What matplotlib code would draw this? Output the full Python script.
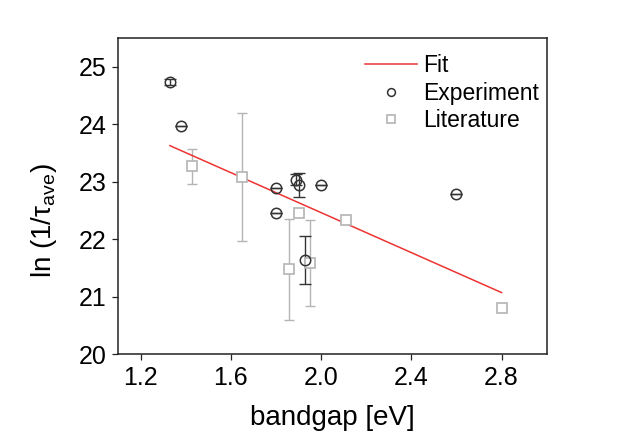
import matplotlib
matplotlib.use("Agg")
import matplotlib.pyplot as plt
import numpy as np

plt.rcParams['font.family'] = ['Liberation Sans', 'DejaVu Sans']
plt.rcParams['mathtext.fontset'] = 'custom'
plt.rcParams['mathtext.rm'] = 'Liberation Sans'

# Experiment data
exp_x = [1.33, 1.38, 1.80, 1.80, 1.89, 1.90, 1.93, 2.00, 2.60]
exp_y = [24.74, 23.98, 22.90, 22.46, 23.04, 22.95, 21.64, 22.95, 22.78]
exp_err = [0.05, 0.0, 0.0, 0.0, 0.10, 0.21, 0.42, 0.0, 0.0]

# Literature data
lit_x = [1.43, 1.65, 1.86, 1.90, 1.95, 2.11, 2.80]
lit_y = [23.27, 23.08, 21.48, 22.46, 21.58, 22.33, 20.80]
lit_err = [0.31, 1.12, 0.88, 0.0, 0.75, 0.0, 0.0]

# Fit line endpoints
fit_x = [1.33, 2.80]
fit_y = [23.63, 21.07]

x_ticks = [1.2, 1.6, 2.0, 2.4, 2.8]
y_ticks = [20, 21, 22, 23, 24, 25]

W, H = 619, 437
fig = plt.figure(figsize=(W/100, H/100), dpi=100)
ax = fig.add_axes([118/W, 1-354/H, (546.7-118)/W, (354-38.3)/H])

lit_col = '#b4b4b4'
exp_col = '#333333'

ax.plot(fit_x, fit_y, color='#ee3333', lw=1.1, label='Fit', zorder=2)

ax.errorbar(lit_x, lit_y, yerr=lit_err, fmt='none', ecolor=lit_col, elinewidth=1.0,
            capsize=3.5, capthick=1.0, zorder=1)
ax.plot(lit_x, lit_y, ls='none', marker='s', ms=6.8, mfc='white', mec=lit_col, mew=1.2,
        label='Literature', zorder=3)

ax.errorbar(exp_x, exp_y, yerr=exp_err, fmt='none', ecolor=exp_col, elinewidth=1.0,
            capsize=4, capthick=1.0, zorder=1)
ax.plot(exp_x, exp_y, ls='none', marker='o', ms=7.5, mfc='none', mec=exp_col, mew=1.1,
        label='Experiment', zorder=4)

ax.set_xlim(1.1, 3.0)
ax.set_ylim(20, 25.5)
ax.set_xticks(x_ticks)
ax.set_xticklabels([f'{v:.1f}' for v in x_ticks])
ax.set_yticks(y_ticks)

for s in ax.spines.values():
    s.set_linewidth(1.1)
    s.set_color('#222222')
ax.tick_params(axis='both', direction='out', length=4.5, width=0.9, labelsize=18,
               colors='#222222', labelcolor='black', pad=4)
ax.tick_params(top=False, right=False)

fig.text(332/W, 1-418/H, 'bandgap [eV]', fontsize=20, ha='center', va='center')
fig.text(44/W, 1-221/H, r'ln (1/τ$_\mathregular{ave}$)', fontsize=20, ha='center',
         va='center', rotation=90)

handles, labels = ax.get_legend_handles_labels()
order = [labels.index('Fit'), labels.index('Experiment'), labels.index('Literature')]
leg = ax.legend([handles[i] for i in order], [labels[i] for i in order],
                loc='upper left', bbox_to_anchor=(365/W, 1-54/H),
                bbox_transform=fig.transFigure, frameon=False, fontsize=16.5,
                handlelength=2.26, handletextpad=0.26, labelspacing=0.2,
                borderpad=0, borderaxespad=0, markerscale=0.75)

fig.savefig('out.png', dpi=100, facecolor='white')
